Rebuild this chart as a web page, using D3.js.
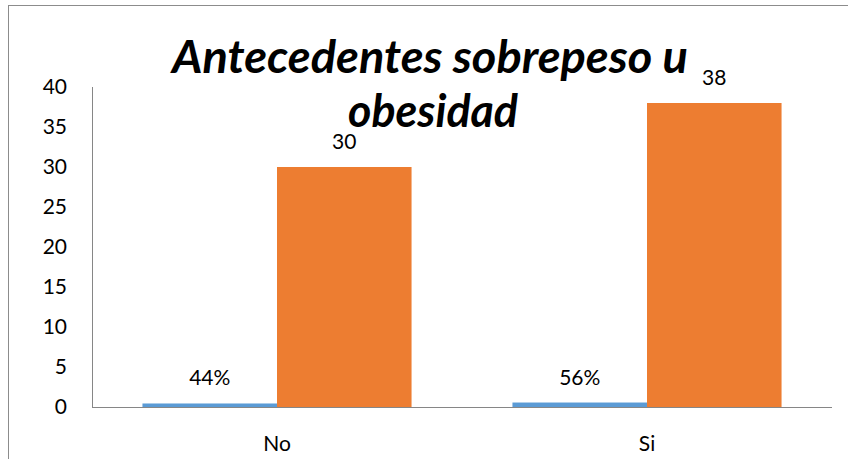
<!DOCTYPE html>
<html>
<head>
<meta charset="utf-8">
<script src="https://cdn.jsdelivr.net/npm/d3@7"></script>
<style>
  html, body { margin: 0; padding: 0; background: #fff; }
  svg { display: block; }
  text { font-family: Lato, "Open Sans", "DejaVu Sans", sans-serif; fill: #000; }
</style>
</head>
<body>
<svg id="chart" width="848" height="459"></svg>
<script>
// Chart data
const categories = ["No", "Si"];
const percentValues = [0.44, 0.56];      // share of respondents (plotted on the count axis)
const percentLabels = ["44%", "56%"];
const countValues = [30, 38];            // number of respondents
const yTicks = [0, 5, 10, 15, 20, 25, 30, 35, 40];
const titleLines = ["Antecedentes sobrepeso u", "obesidad"];

const series = ["pct", "count"];
const colors = { pct: "#5B9BD5", count: "#ED7D31" };

const svg = d3.select("#chart");

// Chart frame
svg.append("rect")
  .attr("x", 8.5).attr("y", 5.5)
  .attr("width", 860).attr("height", 470)
  .attr("fill", "none")
  .attr("stroke", "#8c8c8c")
  .attr("stroke-width", 1);

const plot = { left: 92, right: 832, top: 87, bottom: 407 };

const x = d3.scaleBand()
  .domain(categories)
  .range([plot.left, plot.right])
  .paddingInner(0).paddingOuter(0);

const xs = d3.scaleBand()
  .domain(series)
  .range([0, x.bandwidth()])
  .paddingInner(0).paddingOuter(0.375);

const y = d3.scaleLinear()
  .domain([0, 40])
  .range([plot.bottom, plot.top]);

const labelFont = 21;

// Y axis labels
const yAxis = d3.axisLeft(y).tickValues(yTicks).tickSize(0).tickPadding(25);
const gy = svg.append("g")
  .attr("transform", `translate(${plot.left},0)`)
  .call(yAxis);
gy.select(".domain").remove();
gy.selectAll("text")
  .attr("font-size", labelFont)
  .attr("font-family", "Lato, 'Open Sans', sans-serif")
  .attr("fill", "#000");

// Bars
const rows = categories.map((c, i) => ({
  cat: c,
  values: [
    { key: "pct", value: percentValues[i], label: percentLabels[i] },
    { key: "count", value: countValues[i], label: String(countValues[i]) }
  ]
}));

const groups = svg.append("g").selectAll("g")
  .data(rows).join("g")
  .attr("transform", d => `translate(${x(d.cat)},0)`);

groups.selectAll("rect")
  .data(d => d.values).join("rect")
  .attr("x", d => xs(d.key))
  .attr("width", xs.bandwidth())
  .attr("y", d => y(d.value))
  .attr("height", d => y(0) - y(d.value))
  .attr("fill", d => colors[d.key]);

groups.selectAll("text.val")
  .data(d => d.values).join("text")
  .attr("class", "val")
  .attr("x", d => xs(d.key) + xs.bandwidth() / 2)
  .attr("y", d => y(d.value) - 18)
  .attr("text-anchor", "middle")
  .attr("font-size", labelFont)
  .text(d => d.label);

// Axis lines
const axisColor = "#868686";
svg.append("line")
  .attr("x1", plot.left + 0.5).attr("x2", plot.left + 0.5)
  .attr("y1", plot.top).attr("y2", plot.bottom)
  .attr("stroke", axisColor);
svg.append("line")
  .attr("x1", plot.left).attr("x2", plot.right)
  .attr("y1", plot.bottom + 0.5).attr("y2", plot.bottom + 0.5)
  .attr("stroke", axisColor);

// Category labels
const xAxis = d3.axisBottom(x).tickSize(0).tickPadding(29);
const gx = svg.append("g")
  .attr("transform", `translate(0,${plot.bottom})`)
  .call(xAxis);
gx.select(".domain").remove();
gx.selectAll("text")
  .attr("font-size", labelFont)
  .attr("font-family", "Lato, 'Open Sans', sans-serif")
  .attr("fill", "#000");

// Title (two lines)
const titleSpecs = [
  { text: titleLines[0], cx: 430, y: 73, width: 516 },
  { text: titleLines[1], cx: 433, y: 127, width: 170 }
];
svg.append("g").selectAll("text")
  .data(titleSpecs).join("text")
  .attr("x", d => d.cx)
  .attr("y", d => d.y)
  .attr("text-anchor", "middle")
  .attr("font-size", 45)
  .attr("font-weight", 700)
  .attr("font-style", "italic")
  .attr("textLength", d => d.width)
  .attr("lengthAdjust", "spacingAndGlyphs")
  .text(d => d.text);
</script>
</body>
</html>
